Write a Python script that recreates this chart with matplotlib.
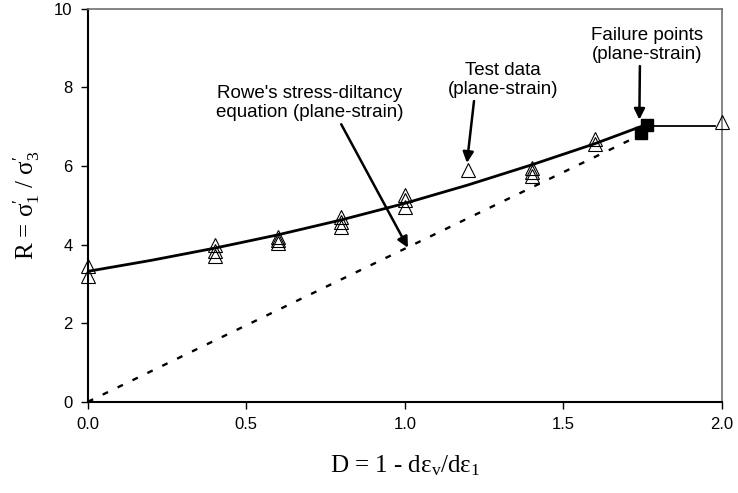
import matplotlib
matplotlib.use("Agg")
import matplotlib.pyplot as plt

plt.rcParams['font.family'] = ['Liberation Sans', 'DejaVu Sans']
plt.rcParams['mathtext.fontset'] = 'custom'
plt.rcParams['mathtext.rm'] = 'Liberation Serif'
plt.rcParams['mathtext.it'] = 'Liberation Serif'

# test data (plane-strain)
test_d = [0.0, 0.0, 0.4, 0.4, 0.4, 0.6, 0.6, 0.6, 0.8, 0.8, 0.8,
          1.0, 1.0, 1.0, 1.2, 1.4, 1.4, 1.4, 1.6, 1.6, 2.0]
test_r = [3.2, 3.45, 3.7, 3.85, 4.0, 4.05, 4.12, 4.2, 4.45, 4.58, 4.7,
          4.96, 5.14, 5.27, 5.9, 5.75, 5.85, 5.95, 6.55, 6.68, 7.12]

# fitted curve through the test data
curve_d = [0.0, 0.2, 0.4, 0.6, 0.8, 1.0, 1.2, 1.4, 1.6, 1.75]
curve_r = [3.32, 3.60, 3.91, 4.25, 4.63, 5.05, 5.52, 6.03, 6.57, 7.02]

# plateau after failure
plateau_d = [1.75, 1.98]
plateau_r = [7.03, 7.03]

# failure points
fail_d = [1.745, 1.765]
fail_r = [6.85, 7.05]

# Rowe's stress-dilatancy line
rowe_d = [0.0, 1.72]
rowe_r = [0.0, 6.7]

fig = plt.figure(figsize=(7.38, 4.93), dpi=100)
ax = fig.add_axes([0.119, 0.185, 0.859, 0.797])

ax.plot(rowe_d, rowe_r, color='k', lw=1.7, linestyle=(0, (2.5, 4.5)))
ax.plot(curve_d, curve_r, color='k', lw=2.0)
ax.plot(plateau_d, plateau_r, color='k', lw=1.3)
ax.plot(test_d, test_r, linestyle='none', marker='^', markersize=9.5,
        markerfacecolor='none', markeredgecolor='k', markeredgewidth=0.8,
        clip_on=False, zorder=4)
ax.plot(fail_d, fail_r, linestyle='none', marker='s', markersize=8,
        color='k', zorder=5)

ax.set_xlim(0, 2)
ax.set_ylim(0, 10)
ax.set_xticks([0, 0.5, 1.0, 1.5, 2.0])
ax.set_xticklabels(['0.0', '0.5', '1.0', '1.5', '2.0'])
ax.set_yticks([0, 2, 4, 6, 8, 10])
ax.tick_params(direction='out', length=5, width=1, labelsize=12, pad=6)

for s in ['left', 'bottom']:
    ax.spines[s].set_linewidth(1.5)
    ax.spines[s].set_color('k')
for s in ['top', 'right']:
    ax.spines[s].set_linewidth(1.2)
    ax.spines[s].set_color('#707070')

serif = ['Liberation Serif', 'DejaVu Serif']
ax.set_xlabel("D = 1 - dε$_{\\mathrm{v}}$/dε$_{1}$", fontsize=18, family=serif, labelpad=15)
ax.set_ylabel("R = σ$_{1}^{\\prime}$ / σ$_{3}^{\\prime}$", fontsize=18, family=serif, labelpad=9)

arrow = dict(arrowstyle='-|>', color='k', lw=1.8, mutation_scale=16, shrinkA=0, shrinkB=0)
ax.annotate("Rowe's stress-diltancy\nequation (plane-strain)", xy=(1.01, 3.92),
            xytext=(0.70, 7.6), ha='center', va='center', fontsize=13.5,
            linespacing=1.2, arrowprops=dict(arrow, relpos=(0.66, 0.0)))
ax.annotate("Test data\n(plane-strain)", xy=(1.196, 6.08), xytext=(1.31, 8.19),
            ha='center', va='center', fontsize=13.5, linespacing=1.2,
            arrowprops=dict(arrow, relpos=(0.24, 0.0)))
ax.annotate("Failure points\n(plane-strain)", xy=(1.74, 7.18), xytext=(1.763, 9.08),
            ha='center', va='center', fontsize=13.5, linespacing=1.2,
            arrowprops=dict(arrow, relpos=(0.44, 0.0)))

plt.savefig('out.png', dpi=100)
